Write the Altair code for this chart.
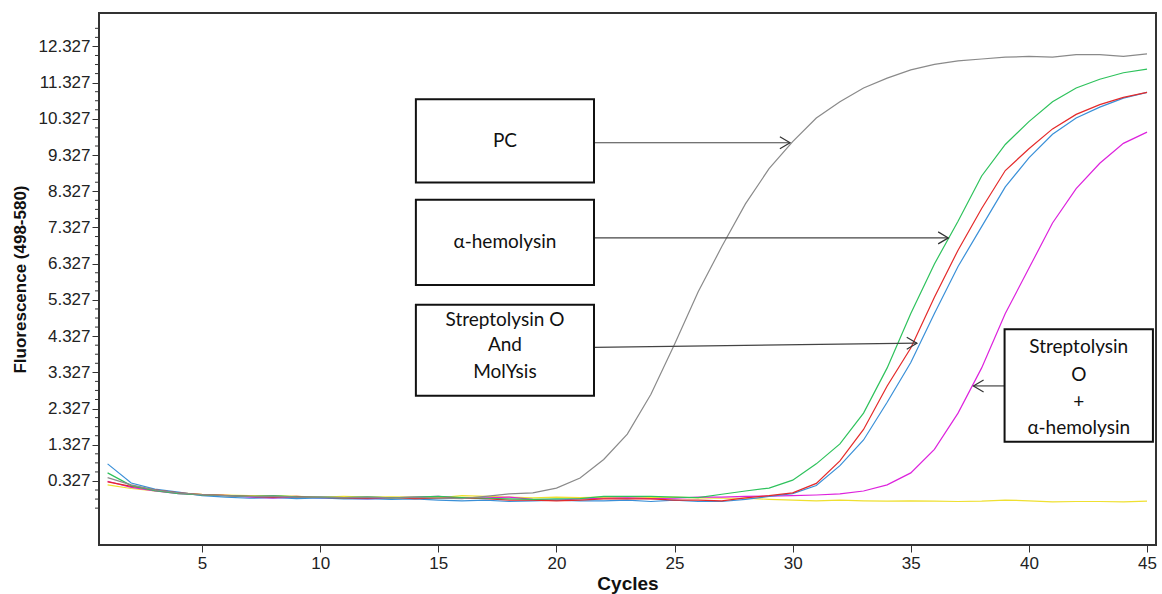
import altair as alt
import pandas as pd

# ---------------- data ----------------
cycles = list(range(1, 46))

pc = [0.42, 0.22, 0.08, 0.0, -0.05, -0.08, -0.1, -0.09, -0.12, -0.11,
      -0.13, -0.12, -0.14, -0.13, -0.15, -0.16, -0.1, -0.03, 0.0, 0.13,
      0.41, 0.92, 1.62, 2.72, 4.1, 5.55, 6.8, 7.98, 8.95, 9.7,
      10.35, 10.8, 11.18, 11.45, 11.68, 11.83, 11.93, 11.98, 12.03, 12.05,
      12.03, 12.1, 12.1, 12.05, 12.12]
alpha_hly = [0.55, 0.2, 0.06, -0.02, -0.06, -0.08, -0.1, -0.08, -0.11, -0.12,
             -0.13, -0.11, -0.14, -0.12, -0.1, -0.13, -0.15, -0.17, -0.18, -0.17,
             -0.16, -0.1, -0.1, -0.1, -0.12, -0.13, -0.04, 0.05, 0.13, 0.35,
             0.8, 1.35, 2.2, 3.45, 4.95, 6.32, 7.5, 8.75, 9.62, 10.25,
             10.8, 11.18, 11.42, 11.6, 11.7]
slo = [0.3, 0.18, 0.08, 0.0, -0.05, -0.07, -0.1, -0.12, -0.1, -0.13,
       -0.14, -0.15, -0.13, -0.16, -0.15, -0.14, -0.16, -0.2, -0.2, -0.22,
       -0.2, -0.17, -0.17, -0.17, -0.2, -0.2, -0.22, -0.14, -0.08, 0.0,
       0.26, 0.88, 1.75, 2.95, 4.0, 5.4, 6.7, 7.85, 8.9, 9.5,
       10.05, 10.45, 10.72, 10.92, 11.06]
molysis = [0.8, 0.27, 0.1, 0.02, -0.08, -0.12, -0.15, -0.13, -0.16, -0.14,
           -0.17, -0.16, -0.18, -0.17, -0.2, -0.22, -0.2, -0.24, -0.22, -0.2,
           -0.22, -0.22, -0.2, -0.24, -0.2, -0.24, -0.24, -0.18, -0.1, -0.02,
           0.2, 0.75, 1.46, 2.5, 3.6, 4.95, 6.25, 7.35, 8.45, 9.25,
           9.9, 10.35, 10.65, 10.9, 11.06]
slo_alpha = [0.32, 0.15, 0.05, -0.02, -0.06, -0.08, -0.12, -0.15, -0.12, -0.14,
             -0.15, -0.17, -0.14, -0.12, -0.1, -0.15, -0.14, -0.12, -0.18, -0.2,
             -0.17, -0.15, -0.14, -0.16, -0.15, -0.12, -0.12, -0.1, -0.09, -0.08,
             -0.06, -0.03, 0.05, 0.22, 0.55, 1.2, 2.2, 3.45, 4.95, 6.2,
             7.45, 8.4, 9.1, 9.65, 9.96]
ntc = [0.22, 0.12, 0.05, 0.0, -0.04, -0.06, -0.08, -0.08, -0.1, -0.12,
       -0.1, -0.12, -0.11, -0.12, -0.14, -0.08, -0.1, -0.12, -0.14, -0.12,
       -0.13, -0.12, -0.14, -0.13, -0.12, -0.14, -0.15, -0.15, -0.18, -0.2,
       -0.22, -0.2, -0.22, -0.23, -0.22, -0.23, -0.24, -0.23, -0.2, -0.22,
       -0.25, -0.24, -0.24, -0.25, -0.23]

series_names = ["NTC", "Streptolysin O + α-hemolysin", "MolYsis",
                "Streptolysin O", "α-hemolysin", "PC"]
series_values = [ntc, slo_alpha, molysis, slo, alpha_hly, pc]
series_colors = ["#efe030", "#dd22dd", "#3a90d8", "#e42a2a", "#2ec25c", "#8a8a8a"]

y_tick_labels = [0.327 + i for i in range(13)]
x_tick_labels = [5, 10, 15, 20, 25, 30, 35, 40, 45]
y_minor_ticks = [round(-0.423 + 0.25 * i, 3) for i in range(54)]

# annotation boxes (data coordinates)
box_x1 = [14.05, 14.05, 14.05, 38.97]
box_x2 = [21.59, 21.59, 21.59, 45.25]
box_y1 = [10.87, 8.09, 5.19, 4.52]
box_y2 = [8.57, 5.74, 2.68, 1.41]

label_text = ["PC", "α-hemolysin", "Streptolysin O", "And", "MolYsis",
              "Streptolysin", "O", "+", "α-hemolysin"]
label_x = [17.82, 17.82, 17.82, 17.82, 17.82, 42.11, 42.11, 42.11, 42.11]
label_y = [9.72, 6.93, 4.78, 4.08, 3.35, 4.04, 3.26, 2.52, 1.78]

arrow_x1 = [21.59, 21.59, 21.59, 38.97]
arrow_x2 = [29.89, 36.59, 35.26, 37.65]
arrow_y1 = [9.667, 7.04, 4.016, 2.952]
arrow_y2 = [9.667, 7.04, 4.132, 2.952]
arrow_angle = [0, 0, 0, 180]

# ---------------- frames ----------------
rows = []
for name, vals in zip(series_names, series_values):
    for c, v in zip(cycles, vals):
        rows.append({"cycle": c, "value": v, "series": name})
lines_df = pd.DataFrame(rows)
minor_df = pd.DataFrame({"v": [t for t in y_minor_ticks
                               if abs((t - 0.327) % 1.0) > 0.01 and abs((t - 0.327) % 1.0 - 1) > 0.01]})
box_df = pd.DataFrame({"x1": box_x1, "x2": box_x2, "y1": box_y1, "y2": box_y2})
label_df = pd.DataFrame({"t": label_text, "x": label_x, "y": label_y})
arrow_df = pd.DataFrame({"x1": arrow_x1, "x2": arrow_x2, "y1": arrow_y1,
                         "y2": arrow_y2, "a": arrow_angle})
frame_df = pd.DataFrame({"k": [0]})

# ---------------- scales / axes ----------------
xscale = alt.Scale(domain=[0.636, 45.38], nice=False, zero=False)
yscale = alt.Scale(domain=[-1.441, 13.25], nice=False, zero=False)
xaxis = alt.Axis(values=x_tick_labels, title="Cycles", tickSize=7, labelPadding=3,
                 labelFontSize=17, labelFont="Liberation Sans", labelColor="#222222",
                 titleFont="Liberation Sans", titleFontSize=19, titleFontWeight="bold",
                 titleColor="#111111", titleY=44, titleBaseline="alphabetic",
                 domain=False, grid=False, tickColor="#333333", labelFlush=False)
yaxis = alt.Axis(values=y_tick_labels, format=".3f", title="Fluorescence (498-580)",
                 tickSize=7, labelPadding=2, labelFontSize=17, labelFont="Liberation Sans",
                 labelColor="#222222", titleFont="Liberation Sans", titleFontSize=17,
                 titleFontWeight="bold", titleColor="#111111", titleX=-79,
                 titleBaseline="middle", domain=False, grid=False, tickColor="#333333")


def X(f):
    return alt.X(f, type="quantitative", scale=xscale, axis=xaxis)


def Y(f):
    return alt.Y(f, type="quantitative", scale=yscale, axis=yaxis)


lines = alt.Chart(lines_df).mark_line(strokeWidth=1.2, clip=True).encode(
    x=X("cycle"), y=Y("value"),
    color=alt.Color("series:N", scale=alt.Scale(domain=series_names, range=series_colors),
                    legend=None),
    order=alt.Order("cycle:Q"),
)

minor = alt.Chart(minor_df).mark_rule(color="#333333", strokeWidth=1).encode(
    x=alt.value(-4), x2=alt.value(0), y=Y("v"))

boxes = alt.Chart(box_df).mark_rect(fill="white", stroke="#111111", strokeWidth=2).encode(
    x=X("x1"), x2="x2", y=Y("y1"), y2="y2")

labels = alt.Chart(label_df).mark_text(font="Lato", fontSize=19, color="#111111",
                                       baseline="middle", align="center").encode(
    x=X("x"), y=Y("y"), text="t:N")

arrow_lines = alt.Chart(arrow_df).mark_rule(color="#444444", strokeWidth=1.2).encode(
    x=X("x1"), x2="x2", y=Y("y1"), y2="y2")

heads = alt.Chart(arrow_df).mark_point(shape="M -1.7 -1 L 0 0 L -1.7 1", filled=False,
                                       size=144, color="#333333", strokeWidth=1.2,
                                       opacity=1).encode(
    x=X("x2"), y=Y("y2"), angle=alt.Angle("a:Q", scale=None))

frame = alt.Chart(frame_df).mark_rect(filled=False, stroke="#333333", strokeWidth=2).encode(
    x=alt.value(0), x2=alt.value("width"), y=alt.value(0), y2=alt.value("height"))

chart = alt.layer(lines, minor, arrow_lines, boxes, labels, heads, frame).properties(
    width=1057, height=532,
    padding={"left": 99, "top": 13, "right": 6, "bottom": 49},
    autosize=alt.AutoSizeParams(type="none"),
).configure_view(stroke=None).configure(background="white")

chart.save("out.html", embed_options={"renderer": "svg", "actions": False})
